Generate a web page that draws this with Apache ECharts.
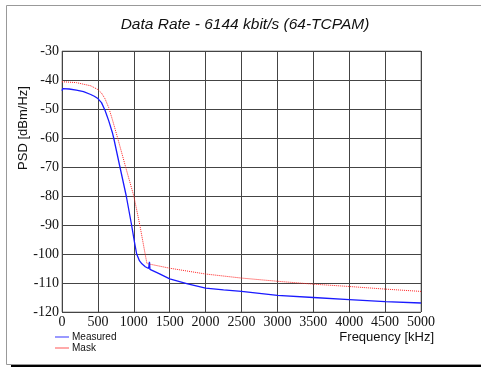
<!DOCTYPE html>
<html><head><meta charset="utf-8">
<script src="https://cdn.jsdelivr.net/npm/echarts@6/dist/echarts.min.js"></script>
<style>html,body{margin:0;padding:0;background:#fff}#c{width:481px;height:367px}</style>
</head><body><div id="c"></div>
<script>
const titleText = 'Data Rate - 6144 kbit/s (64-TCPAM)';
const yAxisName = 'PSD [dBm/Hz]';
const xAxisName = 'Frequency [kHz]';
const seriesNames = ['Measured', 'Mask'];

const measuredFreq = [0, 10, 100, 200, 300, 400, 450, 500, 550, 600, 650, 700, 720, 807, 895, 969, 1010, 1040, 1080, 1113, 1160, 1206, 1218, 1225, 1235, 1345, 1500, 1750, 2000, 2250, 2500, 3000, 3500, 4000, 4500, 5000];
const measuredPSD  = [-43.7, -43.0, -43.1, -43.5, -44.0, -45.0, -45.6, -46.4, -47.8, -50.5, -54.0, -58.0, -60.0, -70.0, -80.0, -90.0, -96.0, -100.0, -102.4, -103.4, -104.4, -105.0, -102.7, -105.3, -105.6, -106.7, -108.6, -110.3, -111.8, -112.4, -112.9, -114.3, -115.0, -115.7, -116.4, -116.9];

const maskFreq = [0, 200, 400, 500, 550, 600, 650, 700, 775, 886, 1000, 1084, 1158, 1183, 1200, 1500, 2000, 2500, 3000, 3500, 4000, 4500, 5000];
const maskPSD  = [-40.6, -40.9, -42.0, -43.3, -44.5, -46.5, -49.5, -53.5, -60.0, -70.0, -80.0, -90.0, -100.0, -103.3, -103.6, -104.9, -106.9, -108.3, -109.4, -110.4, -111.2, -112.1, -112.9];

const pair = (xs, ys) => xs.map((x, i) => [x, ys[i]]);

const chart = echarts.init(document.getElementById('c'), null, {renderer: 'canvas'});
const serif = 'Liberation Serif';
const sans = 'Liberation Sans';
chart.setOption({
  animation: false,
  backgroundColor: '#ffffff',
  grid: {left: 62, right: 60, top: 51, bottom: 55, show: true, borderColor: '#999', borderWidth: 1, backgroundColor: 'transparent'},
  xAxis: {
    type: 'value', min: 0, max: 5000, interval: 500,
    axisLine: {show: false}, axisTick: {show: false},
    axisLabel: {fontFamily: serif, fontSize: 14, color: '#111', margin: 3, formatter: v => String(v)},
    splitLine: {show: true, lineStyle: {color: '#444', width: 1}}
  },
  yAxis: {
    type: 'value', min: -120, max: -30, interval: 10,
    axisLine: {show: false}, axisTick: {show: false},
    axisLabel: {fontFamily: serif, fontSize: 14, color: '#111', margin: 3, formatter: v => String(v)},
    splitLine: {show: true, lineStyle: {color: '#444', width: 1}}
  },
  legend: {
    orient: 'vertical', left: 50, top: 327, itemGap: 1, itemWidth: 14, itemHeight: 2,
    textStyle: {fontFamily: sans, fontSize: 10, color: '#111', padding: [0, 0, 0, -2]},
    data: [
      {name: seriesNames[0], icon: 'rect', itemStyle: {color: '#9999ff'}},
      {name: seriesNames[1], icon: 'rect', itemStyle: {color: '#ffaaaa'}}
    ]
  },
  graphic: [
    {type: 'rect', shape: {x: 6.5, y: 5.5, width: 480, height: 359}, style: {fill: 'none', stroke: '#999', lineWidth: 1}, silent: true, z: -1},
    {type: 'rect', shape: {x: 11, y: 365, width: 470, height: 2}, style: {fill: '#000'}, silent: true},
    {type: 'text', x: 245, y: 25,
      style: {text: titleText, fontFamily: sans, fontStyle: 'italic', fontSize: 15.5, fill: '#111', align: 'center', verticalAlign: 'middle'}},
    {type: 'text', x: 23, y: 128, rotation: Math.PI / 2,
      style: {text: yAxisName, fontFamily: sans, fontSize: 13, fill: '#111', align: 'center', verticalAlign: 'middle'}},
    {type: 'text', x: 434, y: 337,
      style: {text: xAxisName, fontFamily: sans, fontSize: 13, fill: '#111', align: 'right', verticalAlign: 'middle'}}
  ],
  series: [
    {name: seriesNames[0], type: 'line', data: pair(measuredFreq, measuredPSD), showSymbol: false, symbol: 'none',
      lineStyle: {color: '#1a1aff', width: 1.3}, itemStyle: {color: '#9999ff'}, z: 3},
    {name: seriesNames[1], type: 'line', data: pair(maskFreq, maskPSD), showSymbol: false, symbol: 'none',
      lineStyle: {color: '#ff2020', width: 1, type: [1, 1]}, itemStyle: {color: '#ffaaaa'}, z: 2}
  ]
});
</script></body></html>
